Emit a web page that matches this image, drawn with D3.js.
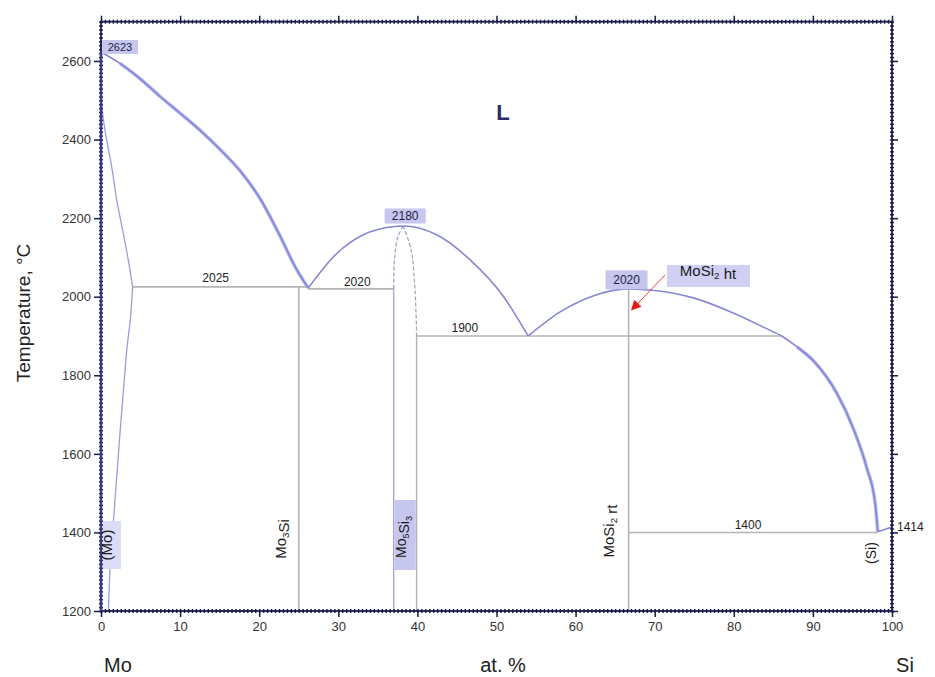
<!DOCTYPE html>
<html>
<head>
<meta charset="utf-8">
<script src="https://cdn.jsdelivr.net/npm/d3@7"></script>
<style>
  html, body { margin: 0; padding: 0; background: #fff; }
  svg { display: block; font-family: "Liberation Sans", Arial, sans-serif; }
</style>
</head>
<body>
<svg id="chart" width="935" height="677"></svg>
<script>
// ---- Mo–Si phase diagram data (composition in at.% Si, temperature in °C) ----
const xTicks = [0, 10, 20, 30, 40, 50, 60, 70, 80, 90, 100];
const yTicks = [1200, 1400, 1600, 1800, 2000, 2200, 2400, 2600];

// liquidus, Mo side down to the Mo3Si / Mo5Si3 eutectic
const liquidusMo = [[0, 2623], [2.4, 2594], [5, 2554], [7.5, 2509], [10, 2467], [12.5, 2424],
  [15, 2376], [17.6, 2320], [20.1, 2250], [22.6, 2156], [24.6, 2074], [26.2, 2022]];
// (Mo) solidus and solvus
const solidusMo = [[0, 2623], [0.05, 2540], [0.15, 2475], [0.72, 2399], [1.35, 2331],
  [1.99, 2246], [2.82, 2161], [3.45, 2093], [4.0, 2025]];
const solvusMo = [[4.0, 2025], [3.75, 1949], [3.25, 1864], [2.4, 1653], [1.77, 1483],
  [1.14, 1312], [0.93, 1200]];
// liquidus around congruent Mo5Si3
const liquidusMo5Si3 = [[26.2, 2022], [29.8, 2110], [33.1, 2157], [36.1, 2176], [38.2, 2180],
  [42.5, 2157], [46.7, 2093], [50.9, 2000], [54.0, 1900]];
// Mo5Si3 homogeneity range boundaries
const mo5si3Left = [[38.2, 2180], [37.5, 2150], [37.1, 2093], [37.0, 2020]];
const mo5si3Right = [[38.2, 2180], [39.2, 2120], [39.7, 2017], [39.9, 1900]];
// liquidus around congruent MoSi2, down to the Si eutectic
const liquidusMoSi2 = [[54.0, 1900], [58.1, 1962], [62.2, 2002], [66.7, 2020], [70, 2016],
  [74.9, 1997], [80, 1958], [84, 1920], [86.2, 1898], [88, 1872], [90.1, 1836], [93.0, 1755],
  [95.1, 1665], [96.8, 1565], [97.9, 1470], [98.2, 1402]];
const liquidusSi = [[98.2, 1402], [100, 1414]];

// invariant reactions: [temperature, from, to, label]
const isotherms = [
  [2025, 4.0, 26.2, "2025"],
  [2020, 26.2, 37.0, "2020"],
  [1900, 39.9, 86.2, "1900"],
  [1400, 66.7, 98.2, "1400"]
];
// line compounds: [composition, top temperature]
const compounds = [[25, 2025], [66.7, 2020]];
const mo5si3Sides = [[37.0, 2020], [39.9, 1900]];
// special points
const meltMo = [0, 2623];
const meltMo5Si3 = [38.2, 2180];
const meltMoSi2 = [66.7, 2020];
const meltSi = [100, 1414];

// ---- layout ----
const svg = d3.select("#chart");
const x = d3.scaleLinear().domain([0, 100]).range([101, 892]);
const y = d3.scaleLinear().domain([1200, 2700]).range([611, 21.7]);
const X0 = x(0), X1 = x(100), Y0 = y(1200), Y1 = y(2700);

const navy = "#1c1c4c";
const curveCol = "#8686d4";
const bandCol = "#b9b9f0";
const grayCol = "#b4b4b4";
const boxCol = "#c6c6ee";

svg.append("rect").attr("width", 935).attr("height", 677).attr("fill", "#fff");

const line = d3.line().x(d => x(d[0])).y(d => y(d[1]));
const smooth = d3.line().x(d => x(d[0])).y(d => y(d[1])).curve(d3.curveCatmullRom.alpha(0.5));
const mono = d3.line().x(d => x(d[0])).y(d => y(d[1])).curve(d3.curveMonotoneX);

// ---- grey invariant lines and compound lines ----
const g = svg.append("g");
isotherms.forEach(([t, a, b]) => {
  g.append("line").attr("x1", x(a)).attr("x2", x(b)).attr("y1", y(t)).attr("y2", y(t))
    .attr("stroke", grayCol).attr("stroke-width", 1.6);
});
compounds.forEach(([c, t]) => {
  g.append("line").attr("x1", x(c)).attr("x2", x(c)).attr("y1", y(t)).attr("y2", Y0)
    .attr("stroke", grayCol).attr("stroke-width", 1.6);
});
// Mo5Si3 single-phase field sides
g.append("line").attr("x1", x(mo5si3Sides[0][0])).attr("x2", x(mo5si3Sides[0][0]))
  .attr("y1", y(mo5si3Sides[0][1])).attr("y2", Y0).attr("stroke", "#a6a6dc").attr("stroke-width", 1.4);
g.append("line").attr("x1", x(mo5si3Sides[1][0])).attr("x2", x(mo5si3Sides[1][0]))
  .attr("y1", y(mo5si3Sides[1][1])).attr("y2", Y0).attr("stroke", grayCol).attr("stroke-width", 1.4);
g.append("path").attr("d", smooth(mo5si3Left)).attr("fill", "none")
  .attr("stroke", "#9a9ac8").attr("stroke-width", 1.2).attr("stroke-dasharray", "4,2");
g.append("path").attr("d", smooth(mo5si3Right)).attr("fill", "none")
  .attr("stroke", "#a0a0b8").attr("stroke-width", 1.2).attr("stroke-dasharray", "4,2");

// ---- phase boundaries ----
const c = svg.append("g").attr("fill", "none");
c.append("path").attr("d", mono(liquidusMo.slice(1))).attr("stroke", bandCol).attr("stroke-width", 3.6);
c.append("path").attr("d", mono(liquidusMoSi2.filter(d => d[0] >= 88))).attr("stroke", bandCol).attr("stroke-width", 3.6);
c.append("path").attr("d", mono(liquidusMo)).attr("stroke", curveCol).attr("stroke-width", 1.6);
c.append("path").attr("d", smooth(solidusMo)).attr("stroke", "#9c9cdc").attr("stroke-width", 1.3);
c.append("path").attr("d", line(solvusMo)).attr("stroke", "#9c9cdc").attr("stroke-width", 1.3);
c.append("path").attr("d", mono(liquidusMo5Si3)).attr("stroke", curveCol).attr("stroke-width", 1.6);
c.append("path").attr("d", mono(liquidusMoSi2)).attr("stroke", curveCol).attr("stroke-width", 1.6);
c.append("path").attr("d", line(liquidusSi)).attr("stroke", curveCol).attr("stroke-width", 1.6);

// ---- axes ----
function styleAxis(sel, labels) {
  sel.select(".domain").remove();
  sel.selectAll(".tick line").attr("stroke", navy).attr("stroke-width", 1.5);
  if (labels) sel.selectAll(".tick text").attr("fill", "#333").attr("font-size", 13)
    .attr("font-family", "'Liberation Sans', Arial, sans-serif");
}
const minorX = d3.range(0, 100.01, 0.5);
const minorY = d3.range(1200, 2700.01, 10);
const fmt = d3.format("d");

svg.append("g").attr("transform", `translate(0,${Y0 - 2})`)
  .call(d3.axisBottom(x).tickValues(minorX).tickSize(4).tickFormat("")).call(s => styleAxis(s));
svg.append("g").attr("transform", `translate(0,${Y1 - 2})`)
  .call(d3.axisBottom(x).tickValues(minorX).tickSize(4).tickFormat("")).call(s => styleAxis(s));
svg.append("g").attr("transform", `translate(${X0 - 2},0)`)
  .call(d3.axisRight(y).tickValues(minorY).tickSize(4).tickFormat("")).call(s => styleAxis(s));
svg.append("g").attr("transform", `translate(${X1 - 2},0)`)
  .call(d3.axisRight(y).tickValues(minorY).tickSize(4).tickFormat("")).call(s => styleAxis(s));

svg.append("g").attr("transform", `translate(0,${Y0})`)
  .call(d3.axisBottom(x).tickValues(xTicks).tickFormat(fmt).tickSize(6).tickPadding(5)).call(s => styleAxis(s, true));
svg.append("g").attr("transform", `translate(0,${Y1})`)
  .call(d3.axisTop(x).tickValues(xTicks).tickSize(6).tickFormat("")).call(s => styleAxis(s));
svg.append("g").attr("transform", `translate(${X0},0)`)
  .call(d3.axisLeft(y).tickValues(yTicks).tickFormat(fmt).tickSize(7).tickPadding(3)).call(s => styleAxis(s, true));
svg.append("g").attr("transform", `translate(${X1},0)`)
  .call(d3.axisRight(y).tickValues(yTicks).tickSize(6).tickFormat("")).call(s => styleAxis(s));

// plot frame
svg.append("rect").attr("x", X0).attr("y", Y1).attr("width", X1 - X0).attr("height", Y0 - Y1)
  .attr("fill", "none").attr("stroke", navy).attr("stroke-width", 1.8);
// pure Mo edge
svg.append("line").attr("x1", X0).attr("x2", X0).attr("y1", y(meltMo[1])).attr("y2", Y0)
  .attr("stroke", "#3a3a8a").attr("stroke-width", 2.4);

// ---- labels ----
function boxedText(cx, cy, w, h, txt, size) {
  svg.append("rect").attr("x", cx - w / 2).attr("y", cy - h / 2).attr("width", w).attr("height", h)
    .attr("fill", boxCol);
  svg.append("text").attr("x", cx).attr("y", cy).attr("text-anchor", "middle")
    .attr("dominant-baseline", "central").attr("font-size", size).attr("fill", "#1e1e40").text(txt);
}
function plainText(cx, cy, txt, size, fill) {
  return svg.append("text").attr("x", cx).attr("y", cy).attr("text-anchor", "middle")
    .attr("dominant-baseline", "central").attr("font-size", size).attr("fill", fill || "#222").text(txt);
}
// text with subscripts, parts = [[text, isSub], ...]
function richText(cx, cy, parts, size, rotate) {
  const t = svg.append("text").attr("text-anchor", "middle").attr("font-size", size).attr("fill", "#1a1a1a")
    .attr("transform", `translate(${cx},${cy}) rotate(${rotate || 0})`).attr("dy", "0.35em");
  parts.forEach(([s, sub]) => {
    t.append("tspan").attr("font-size", sub ? size * 0.65 : size)
      .attr("dy", sub ? 3 : 0).text(s);
    if (sub) t.append("tspan").attr("dy", -3).text("");
  });
  return t;
}

boxedText(x(meltMo[0]) + 19, y(meltMo[1]) - 5, 36, 14, String(meltMo[1]), 11);
boxedText(x(meltMo5Si3[0]) + 2, y(meltMo5Si3[1]) - 10, 41, 15, String(meltMo5Si3[1]), 12);
boxedText(x(meltMoSi2[0]) - 2, y(meltMoSi2[1]) - 9, 42, 19, String(meltMoSi2[1]), 12);

// isotherm labels
plainText(x(14.5), y(2025) - 9, isotherms[0][3], 12, "#222");
plainText(x(32.4), y(2020) - 7, isotherms[1][3], 12, "#222");
plainText(x(46.0), y(1900) - 8, isotherms[2][3], 12, "#222");
plainText(x(81.8), y(1400) - 7, isotherms[3][3], 12, "#222");
svg.append("text").attr("x", 897).attr("y", y(meltSi[1])).attr("dominant-baseline", "central")
  .attr("font-size", 12).attr("fill", "#222").text(String(meltSi[1]));

// liquid field
svg.append("text").attr("x", 503).attr("y", 112).attr("text-anchor", "middle").attr("dominant-baseline", "central")
  .attr("font-size", 22).attr("font-weight", "bold").attr("fill", "#2b2b68").text("L");

// phase names
svg.append("rect").attr("x", 103).attr("y", 521).attr("width", 18).attr("height", 48).attr("fill", "#dcdcf6");
richText(112, 545, [["(Mo)", false]], 15, -90);
richText(286, 539, [["Mo", false], ["3", true], ["Si", false]], 15, -90);
svg.append("rect").attr("x", x(37.0) + 0.8).attr("y", 500).attr("width", x(39.9) - x(37.0) - 1.6).attr("height", 70)
  .attr("fill", boxCol);
richText(406, 537, [["Mo", false], ["5", true], ["Si", false], ["3", true]], 14, -90);
richText(614, 531, [["MoSi", false], ["2", true], [" rt", false]], 15, -90);
richText(876, 553, [["(Si)", false]], 14, -90);

// MoSi2 high-temperature modification
svg.append("rect").attr("x", 667).attr("y", 265).attr("width", 83).attr("height", 22).attr("fill", "#d0d0f4");
richText(708, 276, [["MoSi", false], ["2", true], [" ht", false]], 15, 0);
const arrowFrom = [71.3, 2055], arrowTo = [67.0, 1965];
const ax0 = x(arrowFrom[0]), ay0 = y(arrowFrom[1]), ax1 = x(arrowTo[0]), ay1 = y(arrowTo[1]);
const ang = Math.atan2(ay1 - ay0, ax1 - ax0);
svg.append("line").attr("x1", ax0).attr("y1", ay0).attr("x2", ax1 - 6 * Math.cos(ang)).attr("y2", ay1 - 6 * Math.sin(ang))
  .attr("stroke", "#e84040").attr("stroke-width", 1);
const hl = 10, hw = 5;
const bx = ax1 - hl * Math.cos(ang), by = ay1 - hl * Math.sin(ang);
svg.append("polygon").attr("points", [
  [ax1, ay1],
  [bx + hw * Math.sin(ang), by - hw * Math.cos(ang)],
  [bx - hw * Math.sin(ang), by + hw * Math.cos(ang)]
].map(p => p.join(",")).join(" ")).attr("fill", "#e81818");

// axis titles
svg.append("text").attr("transform", "translate(23,313) rotate(-90)").attr("text-anchor", "middle")
  .attr("dominant-baseline", "central").attr("font-size", 19).attr("fill", "#222").text("Temperature, °C");
plainText(118, 665, "Mo", 20, "#222");
plainText(503, 665, "at. %", 20, "#222");
plainText(905, 665, "Si", 20, "#222");
</script>
</body>
</html>
